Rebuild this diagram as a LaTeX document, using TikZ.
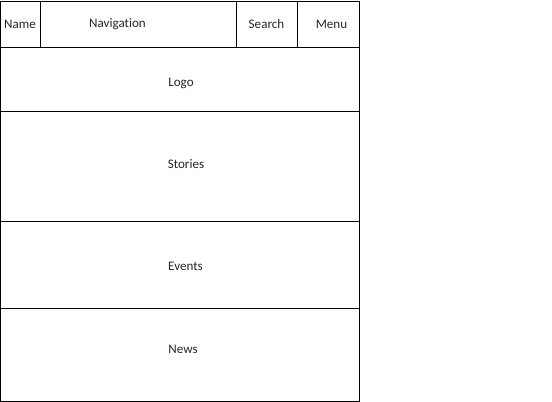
\documentclass[tikz,border=0pt]{standalone}
\usepackage{fontspec}
\setmainfont[Ligatures=NoCommon]{Carlito}
\begin{document}
\begin{tikzpicture}[x=0.75pt,y=-0.75pt,line width=0.7pt,
  cell/.style={font=\fontsize{9.8}{12}\selectfont,text=black!85,inner sep=0pt}]
\useasboundingbox (0,0) rectangle (552,402);

% outline
\draw (0.8,1) rectangle (359,401)
      (0.8,47) -- (359,47) (0.8,111) -- (359,111)
      (0.8,221) -- (359,221) (0.8,308) -- (359,308)
      (40,1) -- (40,47) (236,1) -- (236,47) (297.5,1) -- (297.5,47);

% labels
\node[cell] (name) at (20,24) {Name};
\node[cell] (navigation) at (117.5,24) {Navigation};
\node[cell] (search) at (266.5,24) {Search};
\node[cell] (menu) at (331.5,24) {Menu};
\node[cell] (logo) at (181,83) {Logo};
\node[cell] (stories) at (186,164) {Stories};
\node[cell] (events) at (185.5,266) {Events};
\node[cell] (news) at (183,349) {News};
\end{tikzpicture}
\end{document}
